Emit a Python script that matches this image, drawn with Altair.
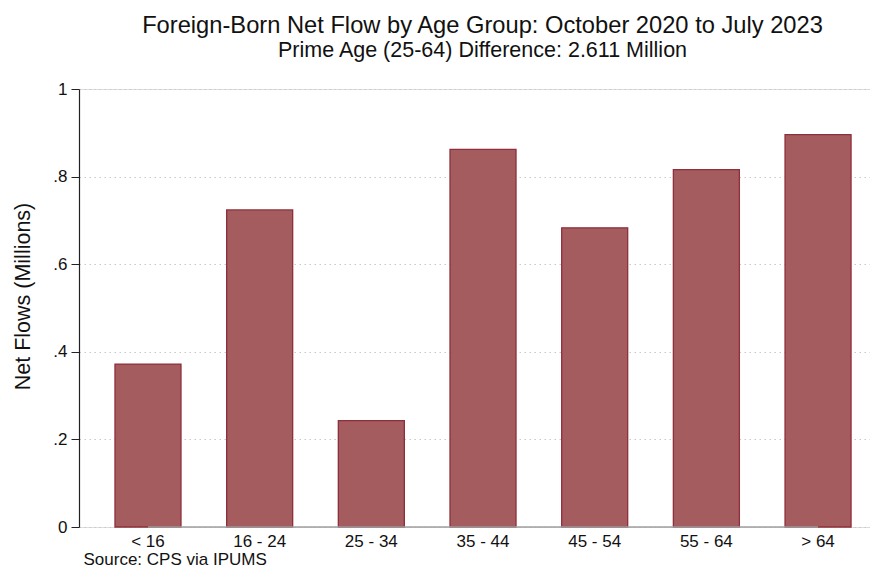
import altair as alt
import pandas as pd

categories = ["< 16", "16 - 24", "25 - 34", "35 - 44", "45 - 54", "55 - 64", "> 64"]
net_flows = [0.372, 0.724, 0.243, 0.862, 0.683, 0.816, 0.896]

df = pd.DataFrame({"age": categories, "flow": net_flows})
line_df = pd.DataFrame({"start": [categories[0]], "end": [categories[-1]], "y": [0.0]})

FONT = "Liberation Sans"

xscale = alt.Scale(domain=categories, paddingInner=0.409, paddingOuter=0.246, align=0.655)
yscale = alt.Scale(domain=[0, 1], nice=False)

bars = alt.Chart(df).mark_bar(
    color="#a45c5f", stroke="#8e2f3b", strokeWidth=1.3
).encode(
    x=alt.X("age:N", sort=categories, scale=xscale,
            axis=alt.Axis(title="Source: CPS via IPUMS", labelAngle=0, ticks=False, domain=False,
                          labelFont=FONT, labelFontSize=17, labelColor="#111", labelPadding=6,
                          titleFont=FONT, titleFontSize=17, titleFontWeight="normal", titleColor="#111",
                          titleAnchor="start", titleAlign="left", titleBaseline="alphabetic",
                          titleX=4, titleY=37)),
    y=alt.Y("flow:Q", scale=yscale,
            axis=alt.Axis(title="Net Flows (Millions)", values=[0, 0.2, 0.4, 0.6, 0.8, 1.0],
                          labelExpr="datum.value == 0 ? '0' : datum.value == 1 ? '1' : replace(format(datum.value, '.1f'), '0.', '.')",
                          labelFont=FONT, labelFontSize=17, labelColor="#111", labelPadding=4,
                          tickSize=8, tickColor="#222", domainColor="#222", domainWidth=1.2,
                          grid=True, gridColor="#c8c8c8", gridDash=[1.5, 3.5], gridWidth=1,
                          titleFont=FONT, titleFontSize=21.5, titleFontWeight="normal", titleColor="#111",
                          titlePadding=18, titleY=207)),
)

baseline = alt.Chart(line_df).mark_rule(color="#a0a0a0", strokeWidth=1.5).encode(
    x=alt.X("start:N", sort=categories, scale=xscale),
    x2="end:N",
    y=alt.Y("y:Q", scale=yscale),
)

chart = alt.layer(bars, baseline).properties(
    width=791, height=438,
    autosize=alt.AutoSizeParams(type="none"),
    padding={"left": 71, "top": 81, "right": 0, "bottom": 42},
    title=alt.Title(
        "Foreign-Born Net Flow by Age Group: October 2020 to July 2023",
        subtitle="Prime Age (25-64) Difference: 2.611 Million",
        font=FONT, fontSize=23.7, fontWeight="normal", color="#111",
        subtitleFont=FONT, subtitleFontSize=21.5, subtitleColor="#111",
        anchor="middle", offset=19, subtitlePadding=2, dx=8,
    ),
).configure_view(stroke=None).configure(background="white")

chart.save("out.html", embed_options={"renderer": "svg", "actions": False})
